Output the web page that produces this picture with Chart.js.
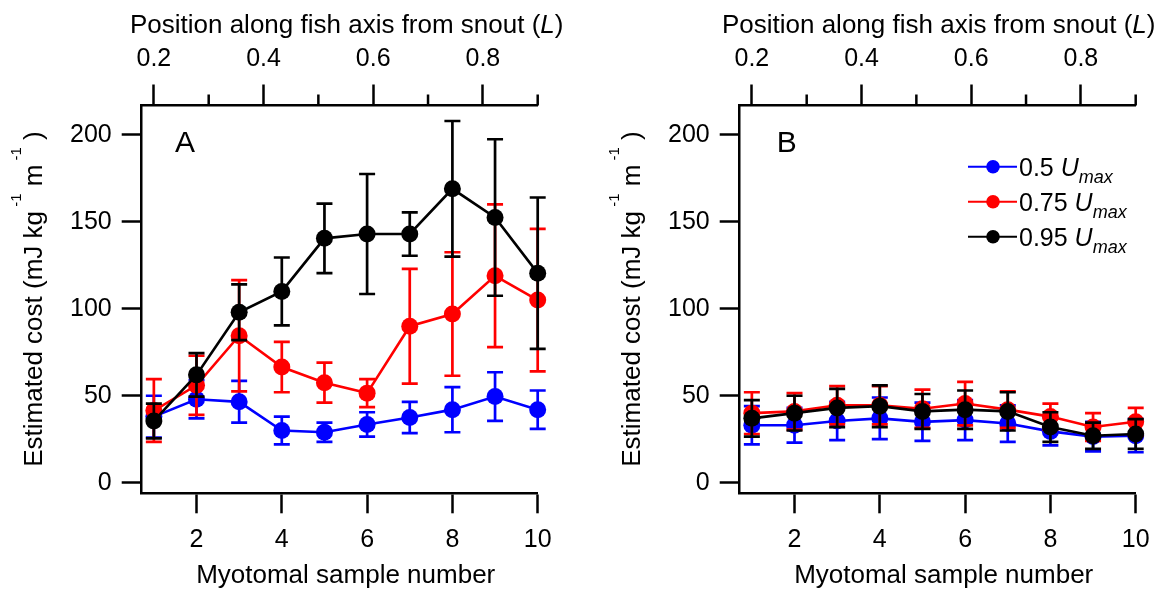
<!DOCTYPE html>
<html>
<head>
<meta charset="utf-8">
<script src="https://cdn.jsdelivr.net/npm/chart.js@4.4.1/dist/chart.umd.min.js"></script>
<style>
  html, body { margin: 0; padding: 0; background: #fff; }
  #wrap { position: relative; width: 1168px; height: 589px; overflow: hidden; }
  canvas { position: absolute; top: 0; }
</style>
</head>
<body>
<div id="wrap">
  <canvas id="chartA" width="570" height="589" style="left:0px"></canvas>
  <canvas id="chartB" width="570" height="589" style="left:598px"></canvas>
</div>
<script>
// sample positions and axis ticks
const samples = [1, 2, 3, 4, 5, 6, 7, 8, 9, 10];
const xTicks = [2, 4, 6, 8, 10];
const yTicks = [0, 50, 100, 150, 200];
const topMajor = [0.2, 0.4, 0.6, 0.8];
const topMinor = [0.3, 0.5, 0.7, 0.9];

// panel A (means and error half-widths)
const blueA = [38, 48, 46.5, 30, 29, 33.5, 37.5, 42, 49.5, 42];
const blueAErr = [12, 11, 12, 8, 5.5, 7, 9, 13, 14, 11];
const redA = [41.5, 56, 84.5, 66.5, 57.5, 51.5, 90, 97, 119, 105];
const redAErr = [18, 17, 32, 14.5, 11.5, 8, 33, 35.5, 41, 41];
const blackA = [35.5, 62, 98, 110, 140.5, 143, 143, 169, 152.5, 120.5];
const blackAErr = [10, 12.5, 16, 19.5, 20, 34.5, 12.5, 39, 45, 43.5];

// panel B
const blueB = [33, 33, 35.5, 37, 35, 36, 34, 29.5, 26.5, 27];
const blueBErr = [11, 10, 11, 12, 11, 11.5, 10.5, 8, 8.5, 9.5];
const redB = [40, 41, 44.5, 44.5, 42.5, 45.5, 42, 38, 32, 35];
const redBErr = [12, 10.5, 11, 11, 11, 12.5, 10.5, 7.5, 8, 8];
const blackB = [37, 40, 43, 44, 41, 42, 41, 32, 27, 28];
const blackBErr = [10.5, 10, 11, 12, 10, 11, 11, 8.5, 7.5, 8.5];

const speeds = ['0.5', '0.75', '0.95'];
const colors = ['#0000ff', '#ff0000', '#000000'];

const FONT = '"Liberation Sans", Arial, Helvetica, sans-serif';
Chart.defaults.font.family = FONT;
Chart.defaults.color = '#000';

// axis ranges (sample 1 <-> 0.2 L, sample 10 <-> 0.9 L)
const XMIN = 0.715, XMAX = 10;
const LMIN = 0.2 - (1 - XMIN) * 0.7 / 9, LMAX = 0.9;
const YMIN = -6.1, YMAX = 216.9;

// draw text made of runs (italic / sub / superscript), centred on x
function drawRuns(ctx, runs, x, y) {
  const fontOf = r => (r.italic ? 'italic ' : '') + (r.size || 26) + 'px ' + FONT;
  let w = 0;
  runs.forEach(r => { ctx.font = fontOf(r); w += ctx.measureText(r.t).width; });
  let cx = x - w / 2;
  runs.forEach(r => {
    ctx.font = fontOf(r);
    ctx.fillText(r.t, cx, y + (r.dy || 0));
    cx += ctx.measureText(r.t).width;
  });
}

const errorBars = {
  id: 'errorBars',
  beforeDatasetDraw(chart, args) {
    const ds = chart.data.datasets[args.index];
    if (!ds.errors) return;
    const { ctx, scales: { x, y } } = chart;
    ctx.save();
    ctx.strokeStyle = ds.borderColor;
    ctx.lineWidth = 2.7;
    ds.data.forEach((p, i) => {
      const e = ds.errors[i];
      const px = x.getPixelForValue(p.x);
      const t = y.getPixelForValue(p.y + e), b = y.getPixelForValue(p.y - e);
      ctx.beginPath();
      ctx.moveTo(px, t); ctx.lineTo(px, b);
      ctx.moveTo(px - 8, t); ctx.lineTo(px + 8, t);
      ctx.moveTo(px - 8, b); ctx.lineTo(px + 8, b);
      ctx.stroke();
    });
    ctx.restore();
  }
};

const decorations = {
  id: 'decorations',
  afterDraw(chart, args, opts) {
    const { ctx, chartArea: a, scales } = chart;
    const cx = (a.left + a.right) / 2;
    ctx.save();
    ctx.fillStyle = '#000';
    ctx.strokeStyle = '#000';
    ctx.textAlign = 'left';
    ctx.textBaseline = 'alphabetic';

    // minor ticks on the top axis
    ctx.lineWidth = 2.5;
    topMinor.forEach(v => {
      const px = scales.x2.getPixelForValue(v);
      ctx.beginPath();
      ctx.moveTo(px, a.top);
      ctx.lineTo(px, a.top - 11);
      ctx.stroke();
    });

    // axis titles
    drawRuns(ctx, [{ t: 'Position along fish axis from snout (' }, { t: 'L', italic: true }, { t: ')' }], cx + opts.titleDx, 33);
    drawRuns(ctx, [{ t: 'Myotomal sample number' }], cx + 6, 583);
    ctx.save();
    ctx.translate(a.left - 99.7, 299);
    ctx.rotate(-Math.PI / 2);
    drawRuns(ctx, [
      { t: 'Estimated cost (mJ kg' },
      { t: ' -1', size: 15, dy: -21 },
      { t: ' m' },
      { t: ' -1', size: 15, dy: -21 },
      { t: ' )' }
    ], 0, 0);
    ctx.restore();

    // panel letter
    ctx.font = '30px ' + FONT;
    ctx.textAlign = 'center';
    ctx.textBaseline = 'middle';
    ctx.fillText(opts.letter, a.left + opts.letterDx, a.top + 38);

    // legend
    if (opts.legend) {
      ctx.textAlign = 'left';
      ctx.textBaseline = 'alphabetic';
      speeds.forEach((s, i) => {
        const ry = 166.7 + i * 35;
        const lx = 370;
        ctx.strokeStyle = colors[i];
        ctx.fillStyle = colors[i];
        ctx.lineWidth = 2;
        ctx.beginPath();
        ctx.moveTo(lx, ry); ctx.lineTo(lx + 49, ry);
        ctx.stroke();
        ctx.beginPath();
        ctx.arc(lx + 25, ry, 6.8, 0, Math.PI * 2);
        ctx.fill();
        ctx.fillStyle = '#000';
        let tx = lx + 51;
        [{ t: s + ' ', size: 25 }, { t: 'U', size: 25, italic: true }, { t: 'max', size: 18, italic: true, dy: 7 }].forEach(r => {
          ctx.font = (r.italic ? 'italic ' : '') + r.size + 'px ' + FONT;
          ctx.fillText(r.t, tx, ry + 9 + (r.dy || 0));
          tx += ctx.measureText(r.t).width;
        });
      });
    }
    ctx.restore();
  }
};

function makeDatasets(series, errs) {
  return series.map((vals, i) => ({
    label: speeds[i] + ' Umax',
    data: samples.map((n, k) => ({ x: n, y: vals[k] })),
    errors: errs[i],
    borderColor: colors[i],
    backgroundColor: colors[i],
    borderWidth: 2.6,
    pointRadius: 8.5,
    pointHoverRadius: 8.5,
    pointBorderWidth: 0,
    pointBackgroundColor: colors[i],
    tension: 0,
    clip: false,
    order: 2 - i
  }));
}

function axisBase() {
  return {
    grid: { drawOnChartArea: false, drawTicks: true, tickLength: 20, tickWidth: 2.5, tickColor: '#000' },
    border: { display: true, color: '#000', width: 2.5 },
    ticks: { color: '#000', font: { family: FONT, size: 25 }, maxRotation: 0, autoSkip: false }
  };
}

function makeChart(id, series, errs, letter, letterDx, titleDx, legend) {
  const xAxis = axisBase();
  const topAxis = axisBase();
  const yAxis = axisBase();
  topAxis.grid.tickLength = 21;
  topAxis.grid.tickColor = c => (c.tick && topMajor.includes(c.tick.value)) ? '#000' : 'rgba(0,0,0,0)';
  xAxis.ticks.padding = 12;
  topAxis.ticks.padding = 10;
  topAxis.ticks.callback = v => topMajor.includes(v) ? v.toFixed(1) : '';
  yAxis.ticks.padding = 10;

  return new Chart(document.getElementById(id), {
    type: 'line',
    data: { datasets: makeDatasets(series, errs) },
    options: {
      responsive: false,
      animation: false,
      layout: { padding: { left: 0, right: 32.3, top: 0, bottom: 0 } },
      scales: {
        x: Object.assign(xAxis, {
          type: 'linear', position: 'bottom', min: XMIN, max: XMAX,
          afterBuildTicks: s => { s.ticks = xTicks.map(v => ({ value: v })); },
          afterFit: s => { s.height = 95.7; }
        }),
        x2: Object.assign(topAxis, {
          type: 'linear', position: 'top', min: LMIN, max: LMAX,
          afterBuildTicks: s => { s.ticks = topMajor.concat(topMinor).sort((p, q) => p - q).map(v => ({ value: v })); },
          afterFit: s => { s.height = 105.5; }
        }),
        y: Object.assign(yAxis, {
          type: 'linear', position: 'left', min: YMIN, max: YMAX,
          afterBuildTicks: s => { s.ticks = yTicks.map(v => ({ value: v })); },
          afterFit: s => { s.width = 141.7; }
        })
      },
      plugins: {
        legend: { display: false },
        tooltip: { enabled: false },
        decorations: { letter: letter, letterDx: letterDx, titleDx: titleDx, legend: legend }
      }
    },
    plugins: [errorBars, decorations]
  });
}

makeChart('chartA', [blueA, redA, blackA], [blueAErr, redAErr, blackAErr], 'A', 43.3, 7, false);
makeChart('chartB', [blueB, redB, blackB], [blueBErr, redBErr, blackBErr], 'B', 47, 1, true);
</script>
</body>
</html>
